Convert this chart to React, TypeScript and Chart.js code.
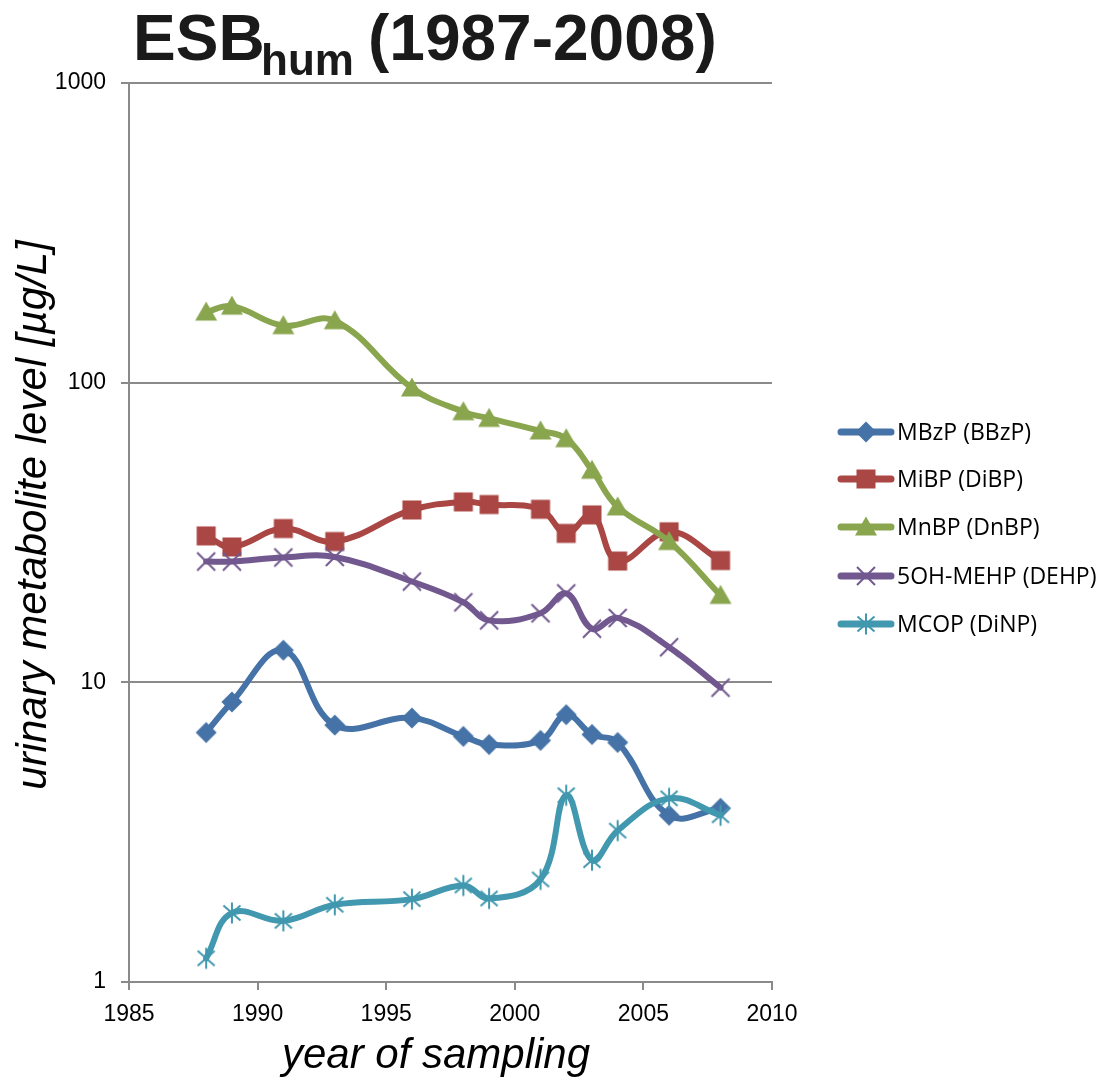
import React, { useEffect, useRef } from 'react';
import { Chart, registerables } from 'chart.js';

Chart.register(...registerables);

// ---- data ----
const years = [1988, 1989, 1991, 1993, 1996, 1998, 1999, 2001, 2002, 2003, 2004, 2006, 2008];
const seriesNames = ['MBzP (BBzP)', 'MiBP (DiBP)', 'MnBP (DnBP)', '5OH-MEHP (DEHP)', 'MCOP (DiNP)'];
const mbzp = [6.8, 8.6, 12.8, 7.2, 7.6, 6.6, 6.2, 6.4, 7.8, 6.7, 6.3, 3.6, 3.8];
const mibp = [30.8, 28.3, 32.6, 29.5, 37.6, 40.0, 39.2, 37.8, 31.4, 36.2, 25.4, 31.8, 25.5];
const mnbp = [172, 180, 155, 161, 96, 80, 76, 69, 65, 51, 38.5, 29.5, 19.5];
const ohmehp = [25.3, 25.3, 26.1, 26.2, 21.7, 18.5, 16.1, 17.0, 19.8, 15.1, 16.4, 13.1, 9.6];
const mcop = [1.2, 1.7, 1.6, 1.81, 1.89, 2.1, 1.9, 2.2, 4.2, 2.55, 3.2, 4.1, 3.6];
const xTickValues = [1985, 1990, 1995, 2000, 2005, 2010];
const yTickValues = [1, 10, 100, 1000];
const titleMain = 'ESB';
const titleSub = 'hum';
const titleRest = '(1987-2008)';
const xTitle = 'year of sampling';
const yTitle = 'urinary metabolite level [µg/L]';

const COLORS = ['#4572A7', '#AA4643', '#89A54E', '#71588F', '#4198AF'];
const MARKERS = ['diamond', 'square', 'triangle', 'x', 'star'];
const GRID = '#8a8a8a';
const FONT = '"Liberation Sans", Arial, sans-serif';
const TICK_FONT = '"Liberation Sans Narrow", "Arial Narrow", "Liberation Sans", Arial, sans-serif';

function makeMarker(kind: string, color: string): HTMLCanvasElement {
  const s = 26;
  const c = document.createElement('canvas');
  c.width = s;
  c.height = s;
  const g = c.getContext('2d')!;
  const m = s / 2;
  g.fillStyle = color;
  g.strokeStyle = color;
  g.lineCap = 'butt';
  if (kind === 'diamond') {
    g.beginPath();
    g.moveTo(m, m - 10.5);
    g.lineTo(m + 10.5, m);
    g.lineTo(m, m + 10.5);
    g.lineTo(m - 10.5, m);
    g.closePath();
    g.fill();
  } else if (kind === 'square') {
    g.fillRect(m - 9.5, m - 9.5, 19, 19);
  } else if (kind === 'triangle') {
    g.beginPath();
    g.moveTo(m, m - 10.5);
    g.lineTo(m + 11, m + 8.5);
    g.lineTo(m - 11, m + 8.5);
    g.closePath();
    g.fill();
  } else if (kind === 'x') {
    g.lineWidth = 2;
    g.beginPath();
    g.moveTo(m - 9, m - 9);
    g.lineTo(m + 9, m + 9);
    g.moveTo(m + 9, m - 9);
    g.lineTo(m - 9, m + 9);
    g.stroke();
  } else {
    g.lineWidth = 2;
    g.beginPath();
    g.moveTo(m - 8.5, m - 7.5);
    g.lineTo(m + 8.5, m + 7.5);
    g.moveTo(m + 8.5, m - 7.5);
    g.lineTo(m - 8.5, m + 7.5);
    g.moveTo(m, m - 10.5);
    g.lineTo(m, m + 10.5);
    g.stroke();
  }
  return c;
}

export default function App() {
  const ref = useRef<HTMLCanvasElement | null>(null);

  useEffect(() => {
    const canvas = ref.current;
    if (!canvas) return;
    const values = [mbzp, mibp, mnbp, ohmehp, mcop];
    const markers = MARKERS.map((k, i) => makeMarker(k, COLORS[i]));

    const datasets = values.map((vals, i) => ({
      label: seriesNames[i],
      data: vals.map((v, j) => ({ x: years[j], y: v })),
      borderColor: COLORS[i],
      backgroundColor: COLORS[i],
      borderWidth: 6,
      tension: 0.4,
      borderCapStyle: 'round' as const,
      borderJoinStyle: 'round' as const,
      pointStyle: markers[i],
      pointRadius: 10,
      order: 5 - i,
    }));

    const decor = {
      id: 'decor',
      afterDraw(chart: any) {
        const ctx = chart.ctx as CanvasRenderingContext2D;
        ctx.save();
        // title
        ctx.fillStyle = '#1a1a1a';
        ctx.textBaseline = 'alphabetic';
        ctx.textAlign = 'left';
        ctx.font = `bold 64px ${FONT}`;
        ctx.fillText(titleMain, 133, 60);
        ctx.font = `bold 44px ${FONT}`;
        ctx.fillText(titleSub, 261, 75);
        ctx.font = `bold 64px ${FONT}`;
        ctx.fillText(titleRest, 368, 60);

        // axis titles
        ctx.fillStyle = '#000';
        ctx.font = `italic 42px ${FONT}`;
        ctx.textAlign = 'center';
        ctx.fillText(xTitle, 436, 1068);
        ctx.save();
        ctx.translate(46, 515);
        ctx.rotate(-Math.PI / 2);
        ctx.fillText(yTitle, 0, 0);
        ctx.restore();

        // legend
        const legendY = [432, 479, 527, 576, 624];
        ctx.font = `23px "Open Sans", "Noto Sans", sans-serif`;
        ctx.textAlign = 'left';
        ctx.textBaseline = 'middle';
        seriesNames.forEach((name, i) => {
          const y = legendY[i];
          ctx.strokeStyle = COLORS[i];
          ctx.lineWidth = 7;
          ctx.lineCap = 'round';
          ctx.beginPath();
          ctx.moveTo(841, y);
          ctx.lineTo(891, y);
          ctx.stroke();
          ctx.drawImage(markers[i], 866 - 13, y - 13);
          ctx.fillStyle = '#000';
          ctx.fillText(name, 897, y + 1);
        });
        ctx.restore();
      },
    };

    const chart = new Chart(canvas, {
      type: 'line',
      data: { datasets },
      plugins: [decor],
      options: {
        responsive: false,
        animation: false,
        devicePixelRatio: 1,
        layout: { padding: { left: 0, top: 83, right: 1103 - 772, bottom: 0 } },
        plugins: {
          legend: { display: false },
          title: { display: false },
          tooltip: { enabled: false },
        },
        scales: {
          x: {
            type: 'linear',
            min: 1985,
            max: 2010,
            afterBuildTicks: (s: any) => {
              s.ticks = xTickValues.map((v) => ({ value: v }));
            },
            afterFit: (s: any) => {
              s.height = 1080 - 982;
            },
            ticks: {
              callback: (v: any) => String(v),
              color: '#000',
              font: { family: TICK_FONT, size: 23 },
              padding: 11,
              maxRotation: 0,
            },
            grid: {
              drawOnChartArea: false,
              drawTicks: true,
              tickLength: 8,
              color: GRID,
              lineWidth: 2,
            },
            border: { display: true, color: GRID, width: 2 },
          },
          y: {
            type: 'logarithmic',
            min: 1,
            max: 1000,
            afterBuildTicks: (s: any) => {
              s.ticks = yTickValues.map((v) => ({ value: v }));
            },
            afterFit: (s: any) => {
              s.width = 129;
            },
            ticks: {
              callback: (v: any) => String(v),
              color: '#000',
              font: { family: TICK_FONT, size: 23 },
              padding: 15,
            },
            grid: {
              drawOnChartArea: true,
              drawTicks: true,
              tickLength: 8,
              color: GRID,
              lineWidth: 2,
            },
            border: { display: true, color: GRID, width: 2 },
          },
        },
      },
    });
    return () => chart.destroy();
  }, []);

  return (
    <div style={{ position: 'absolute', left: 0, top: 0, width: 1103, height: 1080, background: '#fff' }}>
      <canvas ref={ref} width={1103} height={1080} style={{ display: 'block' }} />
    </div>
  );
}
